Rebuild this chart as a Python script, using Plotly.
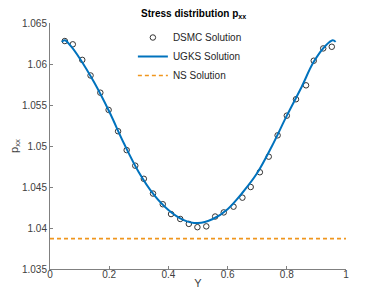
import plotly.graph_objects as go

dsmc_x = [0.050, 0.077, 0.109, 0.137, 0.170, 0.198, 0.230, 0.259, 0.288, 0.317,
          0.348, 0.381, 0.409, 0.440, 0.469, 0.498, 0.528, 0.558, 0.587, 0.620,
          0.650, 0.678, 0.709, 0.739, 0.769, 0.800, 0.831, 0.865, 0.891, 0.923, 0.952]
dsmc_y = [1.0628, 1.0624, 1.0605, 1.0586, 1.0565, 1.0544, 1.0518, 1.0495, 1.0476, 1.0460,
          1.0442, 1.0429, 1.0417, 1.0411, 1.0405, 1.0401, 1.0402, 1.0414, 1.0419, 1.0426,
          1.0437, 1.0450, 1.0468, 1.0487, 1.0513, 1.0537, 1.0557, 1.0574, 1.0604, 1.0619, 1.0621]

ugks_x = [0.040, 0.050, 0.070, 0.100, 0.150, 0.200, 0.250, 0.300, 0.350, 0.400, 0.450, 0.500,
          0.550, 0.600, 0.650, 0.700, 0.750, 0.800, 0.850, 0.890, 0.930, 0.955, 0.965]
ugks_y = [1.0627, 1.0629, 1.0622, 1.0607, 1.0577, 1.0542, 1.0503, 1.0468, 1.0441, 1.0422, 1.0410, 1.0406,
          1.0411, 1.0423, 1.0443, 1.0467, 1.0500, 1.0537, 1.0572, 1.0602, 1.0622, 1.0629, 1.0627]

ns_x = [0.0, 1.0]
ns_y = [1.03871, 1.03871]

x_ticks = [0, 0.2, 0.4, 0.6, 0.8, 1]
x_ticklabels = ["0", "0.2", "0.4", "0.6", "0.8", "1"]
y_ticks = [1.035, 1.04, 1.045, 1.05, 1.055, 1.06, 1.065]
y_ticklabels = ["1.035", "1.04", "1.045", "1.05", "1.055", "1.06", "1.065"]

FONT = "Liberation Sans, Arial"

fig = go.Figure()
fig.add_trace(go.Scatter(x=dsmc_x, y=dsmc_y, mode="markers", name="DSMC Solution",
                         marker=dict(symbol="circle-open", size=5.5, color="#333333",
                                     line=dict(width=1, color="#333333"))))
fig.add_trace(go.Scatter(x=ugks_x, y=ugks_y, mode="lines", name="UGKS Solution",
                         line=dict(color="#0072BD", width=2, shape="spline", smoothing=1.0)))
fig.add_trace(go.Scatter(x=ns_x, y=ns_y, mode="lines", name="NS Solution",
                         line=dict(color="#F0961E", width=1.6, dash="4px,3px")))

axis_common = dict(showline=True, linecolor="#808080", linewidth=1, ticks="inside",
                   ticklen=3, tickcolor="#808080", showgrid=False, zeroline=False,
                   tickfont=dict(family=FONT, size=10, color="#404040"),
                   mirror=False, automargin=False)

# page body has an 8px margin, so the figure is sized 366x285 and offset accordingly
fig.update_layout(
    width=366, height=285,
    margin=dict(l=42, r=28, t=15, b=24),
    paper_bgcolor="white", plot_bgcolor="white",
    title=dict(text="<b>Stress distribution p<sub>xx</sub></b>", x=0.507, xanchor="center",
               y=0.993, yanchor="top", pad=dict(t=0, b=0),
               font=dict(family=FONT, size=10, color="#000000")),
    xaxis=dict(range=[0, 1], tickvals=x_ticks, ticktext=x_ticklabels,
               ticklabelstandoff=-4,
               title=dict(text="Y", standoff=0,
                          font=dict(family=FONT, size=11, color="#404040")),
               **axis_common),
    yaxis=dict(range=[1.035, 1.065], tickvals=y_ticks, ticktext=y_ticklabels,
               title=dict(text="p<sub>xx</sub>", standoff=2,
                          font=dict(family=FONT, size=11, color="#404040")),
               **axis_common),
    legend=dict(x=0.28, y=1.0, xanchor="left", yanchor="top",
                bgcolor="rgba(0,0,0,0)", borderwidth=0, itemwidth=30,
                tracegroupgap=0,
                font=dict(family=FONT, size=10, color="#262626")),
    showlegend=True,
)

fig.write_html("out.html")
